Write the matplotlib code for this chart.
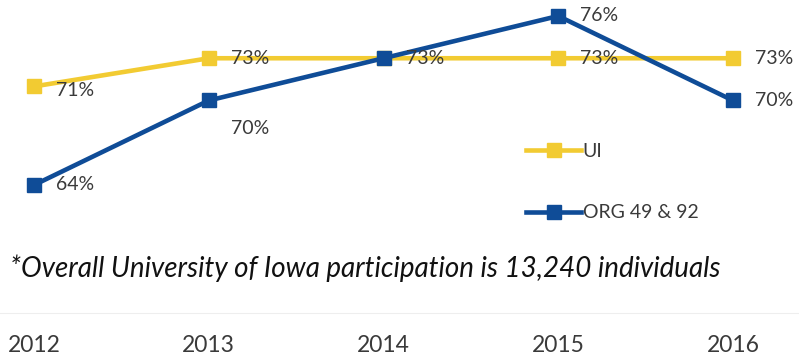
import matplotlib
matplotlib.use("Agg")
import matplotlib.pyplot as plt

# data
years = [2012, 2013, 2014, 2015, 2016]
ui = [71, 73, 73, 73, 73]
org = [64, 70, 73, 76, 70]
ui_labels = ["71%", "73%", "73%", "73%", "73%"]
org_labels = ["64%", "70%", "", "76%", "70%"]
footnote = "*Overall University of Iowa participation is 13,240 individuals"

yellow = "#F2CB32"
blue = "#0F4C97"
txt = "#3a3a3a"

plt.rcParams["font.family"] = ["Lato", "DejaVu Sans"]

fig = plt.figure(figsize=(7.99, 3.64), dpi=100)
ax = fig.add_axes([0, 51 / 364, 1, 313 / 364])

ax.plot(years, ui, color=yellow, lw=3.3, marker="s", ms=10, label="UI")
ax.plot(years, org, color=blue, lw=3.3, marker="s", ms=10, label="ORG 49 & 92")

ax.set_xlim(2011.805, 2016.378)
ax.set_ylim(54.91, 77.136)

# data labels
for i, (x, v) in enumerate(zip(years, ui)):
    ax.annotate(ui_labels[i], (x, v), xytext=(16, -3 if i == 0 else 0),
                textcoords="offset points", ha="left", va="center",
                fontsize=14, color=txt)
for i, (x, v) in enumerate(zip(years, org)):
    if not org_labels[i]:
        continue
    dy = -20 if i == 1 else 0
    ax.annotate(org_labels[i], (x, v), xytext=(16, dy),
                textcoords="offset points", ha="left", va="center",
                fontsize=14, color=txt)

# legend
ax.legend(loc="upper left", bbox_to_anchor=(0.637, 0.60), frameon=False,
          fontsize=14, handlelength=2.8, labelspacing=2.3, handletextpad=0.1,
          labelcolor=txt)

fig.text(0.012, (364 - 268) / 364, footnote, style="italic",
         fontsize=20, color="#111111", va="center", ha="left")

for s in ["top", "left", "right"]:
    ax.spines[s].set_visible(False)
ax.spines["bottom"].set_color("#eeeeee")
ax.set_yticks([])
ax.set_xticks(years)
ax.set_xticklabels([str(y) for y in years])
ax.tick_params(axis="x", length=0, pad=16, labelsize=16.5, labelcolor=txt)

fig.savefig("out.png", dpi=100)
